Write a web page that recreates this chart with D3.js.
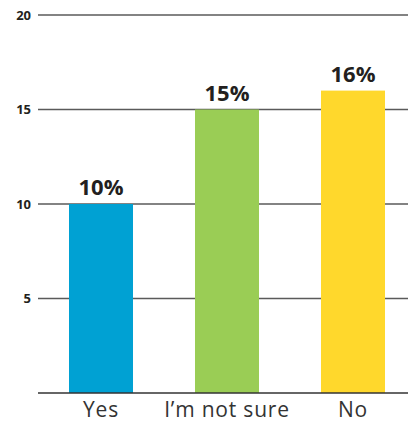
<!DOCTYPE html>
<html>
<head>
<meta charset="utf-8">
<script src="https://cdn.jsdelivr.net/npm/d3@7"></script>
<style>
  html, body { margin: 0; padding: 0; background: #fff; }
  svg { display: block; }
</style>
</head>
<body>
<div id="chart"></div>
<script>
const categories = ['Yes', "I\u2019m not sure", 'No']
const values = [10, 15, 16]
const colors = ['#00a1d3', '#9acd55', '#ffd82c']
const yTicks = [5, 10, 15, 20]

const width = 408
const height = 425
const margin = { top: 15, right: 0, bottom: 32, left: 38 }
const y0 = height - margin.bottom

const svg = d3.select('#chart').append('svg')
  .attr('width', width).attr('height', height)

const x = d3.scaleBand().domain(categories)
  .range([margin.left, 416]).paddingInner(0.492).paddingOuter(0.246)
const y = d3.scaleLinear().domain([0, 20]).range([y0, margin.top])

// Grid lines
svg.append('g').selectAll('line').data(yTicks).join('line')
  .attr('x1', margin.left).attr('x2', width)
  .attr('y1', d => y(d)).attr('y2', d => y(d))
  .attr('stroke', '#5a5a5a').attr('stroke-width', 1.4)

// Tick labels
svg.append('g').selectAll('text').data(yTicks).join('text')
  .attr('x', 31).attr('y', d => y(d)).attr('dy', '0.36em')
  .attr('text-anchor', 'end')
  .style('font', 'bold 13px "Open Sans", sans-serif').attr('fill', '#231f20')
  .text(d => d)

// Bars
svg.append('g').selectAll('rect').data(values).join('rect')
  .attr('x', (d, i) => x(categories[i])).attr('width', x.bandwidth())
  .attr('y', d => y(d)).attr('height', d => y0 - y(d))
  .attr('fill', (d, i) => colors[i])

// Baseline
svg.append('line').attr('x1', margin.left).attr('x2', width)
  .attr('y1', y0).attr('y2', y0).attr('stroke', '#333').attr('stroke-width', 1.6)

// Value labels
svg.append('g').selectAll('text').data(values).join('text')
  .attr('x', (d, i) => x(categories[i]) + x.bandwidth() / 2)
  .attr('y', d => y(d) - 9)
  .attr('text-anchor', 'middle')
  .style('font', 'bold 22px "Open Sans", sans-serif').attr('fill', '#231f20')
  .text(d => d + '%')

// Category labels
svg.append('g').selectAll('text').data(categories).join('text')
  .attr('x', d => x(d) + x.bandwidth() / 2)
  .attr('y', 417)
  .attr('text-anchor', 'middle')
  .style('font', '21px "Open Sans", sans-serif').style('letter-spacing', '0.8px')
  .attr('fill', '#333')
  .text(d => d)
</script>
</body>
</html>
